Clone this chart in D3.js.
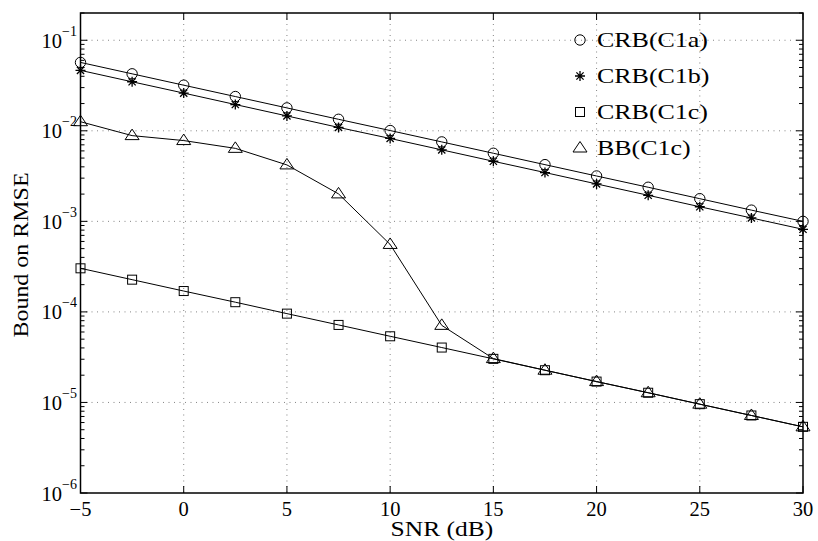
<!DOCTYPE html>
<html>
<head>
<meta charset="utf-8">
<script src="https://cdn.jsdelivr.net/npm/d3@7"></script>
<style>
  body { margin: 0; background: #fff; }
  svg { display: block; }
  text { font-family: "Liberation Serif", "Times New Roman", serif; fill: #000; }
</style>
</head>
<body>
<svg id="chart" width="818" height="541"></svg>
<script>
// ---- data ----
const snr = [-5, -2.5, 0, 2.5, 5, 7.5, 10, 12.5, 15, 17.5, 20, 22.5, 25, 27.5, 30];
const crbC1a = [0.0569, 0.0426, 0.0319, 0.0239, 0.0179, 0.0134, 0.01007, 0.00754, 0.00565, 0.00423, 0.00317, 0.00238, 0.00178, 0.00133, 0.00100];
const crbC1b = [0.0465, 0.0348, 0.0261, 0.0195, 0.0146, 0.0109, 0.00823, 0.00616, 0.00461, 0.00346, 0.00259, 0.00194, 0.00145, 0.00109, 0.000817];
const crbC1c = [3.03e-4, 2.27e-4, 1.70e-4, 1.28e-4, 9.57e-5, 7.18e-5, 5.38e-5, 4.04e-5, 3.03e-5, 2.27e-5, 1.70e-5, 1.28e-5, 9.57e-6, 7.18e-6, 5.38e-6];
const bbC1c  = [0.0126, 0.00885, 0.0078, 0.0064, 0.0042, 0.00201, 5.56e-4, 7.1e-5, 3.05e-5, 2.27e-5, 1.70e-5, 1.28e-5, 9.57e-6, 7.18e-6, 5.38e-6];
const seriesNames = ["CRB(C1a)", "CRB(C1b)", "CRB(C1c)", "BB(C1c)"];
const seriesMarkers = ["circle", "star", "square", "triangle"];
const xTicks = [-5, 0, 5, 10, 15, 20, 25, 30];
const yTickExps = [-6, -5, -4, -3, -2, -1];
const xLabel = "SNR (dB)";
const yLabel = "Bound on RMSE";

// ---- layout ----
const svg = d3.select("#chart");
const L = 80.5, R = 803, T = 13, B = 493;
const x = d3.scaleLinear().domain([-5, 30]).range([L, R]);
const y = d3.scaleLog().domain([1e-6, 0.2]).range([B, T]);

// grid
const grid = svg.append("g").attr("stroke", "#777").attr("stroke-width", 0.9)
  .attr("stroke-dasharray", "1,4.5");
xTicks.slice(1, -1).forEach(t => {
  grid.append("line").attr("x1", x(t)).attr("x2", x(t)).attr("y1", T).attr("y2", B);
});
yTickExps.slice(1).forEach(e => {
  grid.append("line").attr("x1", L).attr("x2", R).attr("y1", y(Math.pow(10, e))).attr("y2", y(Math.pow(10, e)));
});

// ticks
const tk = svg.append("g").attr("stroke", "#000").attr("stroke-width", 1);
xTicks.forEach(t => {
  tk.append("line").attr("x1", x(t)).attr("x2", x(t)).attr("y1", B).attr("y2", B - 7);
  tk.append("line").attr("x1", x(t)).attr("x2", x(t)).attr("y1", T).attr("y2", T + 7);
});
const minor = [];
for (let e = -6; e <= -1; e++) {
  for (let m = 1; m <= 9; m++) {
    const v = m * Math.pow(10, e);
    if (v <= 0.2) minor.push({ v, major: m === 1 });
  }
}
minor.forEach(d => {
  const len = d.major ? 7 : 4;
  const yy = y(d.v);
  tk.append("line").attr("x1", L).attr("x2", L + len).attr("y1", yy).attr("y2", yy);
  tk.append("line").attr("x1", R).attr("x2", R - len).attr("y1", yy).attr("y2", yy);
});

// frame
svg.append("rect").attr("x", L).attr("y", T).attr("width", R - L).attr("height", B - T)
  .attr("fill", "none").attr("stroke", "#000").attr("stroke-width", 1.5);

// tick labels
xTicks.forEach(t => {
  svg.append("text").attr("x", x(t)).attr("y", 516).attr("text-anchor", "middle")
    .attr("font-size", 20.5).text(t < 0 ? "\u2212" + Math.abs(t) : String(t));
});
yTickExps.forEach(e => {
  const yy = y(Math.pow(10, e));
  const tx = svg.append("text").attr("x", 77).attr("y", yy + 7.5).attr("text-anchor", "end")
    .attr("font-size", 20.5);
  tx.append("tspan").text("10");
  tx.append("tspan").attr("dy", -12).attr("font-size", 14).text("\u2212" + Math.abs(e));
});

// axis labels (reference glyphs are horizontally wide)
svg.append("text").attr("transform", "translate(442,536) scale(1.16,1)").attr("text-anchor", "middle")
  .attr("font-size", 22).text(xLabel);
svg.append("text").attr("transform", "translate(28,255) rotate(-90) scale(1.09,1)").attr("text-anchor", "middle")
  .attr("font-size", 22).text(yLabel);

// markers
function drawMarker(g, type, cx, cy) {
  const s = g.append("g").attr("fill", "none").attr("stroke", "#000").attr("stroke-width", 1);
  if (type === "circle") {
    s.append("circle").attr("cx", cx).attr("cy", cy).attr("r", 5.2);
  } else if (type === "square") {
    s.append("rect").attr("x", cx - 4.5).attr("y", cy - 4.5).attr("width", 9).attr("height", 9);
  } else if (type === "triangle") {
    s.append("path").attr("d", `M${cx},${cy - 6.5}L${cx + 7},${cy + 4}L${cx - 7},${cy + 4}Z`);
  } else if (type === "star") {
    const r = 5, d = r * 0.72;
    s.attr("stroke-width", 1.3);
    s.append("path").attr("d",
      `M${cx - r},${cy}L${cx + r},${cy}M${cx},${cy - r}L${cx},${cy + r}` +
      `M${cx - d},${cy - d}L${cx + d},${cy + d}M${cx - d},${cy + d}L${cx + d},${cy - d}`);
  }
}

const allSeries = [crbC1a, crbC1b, crbC1c, bbC1c];
const line = d3.line().x((d, i) => x(snr[i])).y(d => y(d));
const plot = svg.append("g");
allSeries.forEach((vals, si) => {
  plot.append("path").datum(vals).attr("d", line).attr("fill", "none")
    .attr("stroke", "#000").attr("stroke-width", 1);
});
allSeries.forEach((vals, si) => {
  vals.forEach((v, i) => drawMarker(plot, seriesMarkers[si], x(snr[i]), y(v)));
});

// legend
const legY = [40, 76, 112, 148];
seriesNames.forEach((n, i) => {
  drawMarker(svg, seriesMarkers[i], 580, legY[i]);
  svg.append("text").attr("transform", `translate(597,${legY[i] + 6.5}) scale(1.18,1)`)
    .attr("font-size", 22).text(n);
});
</script>
</body>
</html>
